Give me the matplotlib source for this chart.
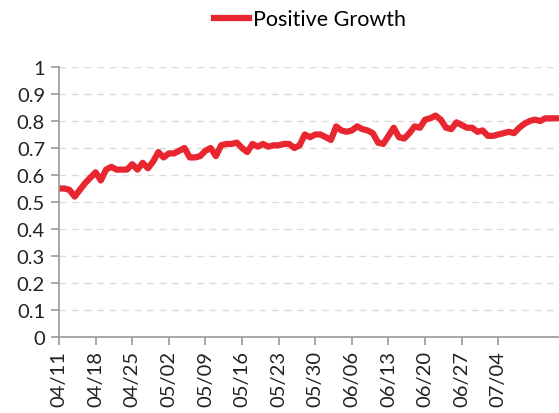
import matplotlib
matplotlib.use("Agg")
import matplotlib.pyplot as plt
import numpy as np
import datetime as dt

# daily share of positive growth, 04/11 -> 07/15
start = dt.date(2020, 4, 11)
values = [
    0.55, 0.55, 0.545, 0.52, 0.545, 0.57, 0.59, 0.61, 0.58, 0.62,
    0.63, 0.62, 0.62, 0.62, 0.64, 0.62, 0.645, 0.625, 0.65, 0.685,
    0.665, 0.68, 0.68, 0.69, 0.70, 0.665, 0.665, 0.67, 0.69, 0.70,
    0.67, 0.71, 0.715, 0.715, 0.72, 0.70, 0.685, 0.715, 0.705, 0.715,
    0.705, 0.71, 0.71, 0.715, 0.715, 0.70, 0.71, 0.75, 0.74, 0.75,
    0.75, 0.74, 0.73, 0.78, 0.765, 0.76, 0.765, 0.78, 0.77, 0.765,
    0.755, 0.72, 0.715, 0.745, 0.775, 0.74, 0.735, 0.755, 0.78, 0.775,
    0.805, 0.81, 0.82, 0.805, 0.775, 0.77, 0.795, 0.785, 0.775, 0.775,
    0.76, 0.765, 0.745, 0.745, 0.75, 0.755, 0.76, 0.755, 0.775, 0.79,
    0.80, 0.805, 0.80, 0.81, 0.81, 0.81,
]
dates = [(start + dt.timedelta(days=i)).strftime("%m/%d") for i in range(len(values))]
series_name = "Positive Growth"

red = "#E8262F"
grey = "#9a9a9a"

fig = plt.figure(figsize=(5.59, 4.14), dpi=100)
ax = fig.add_axes([59/559, 1 - 338/414, 1 - 59/559, 270/414])

x = np.arange(len(values))
ax.plot(x, values, color=red, lw=4.5, solid_joinstyle="round", label=series_name)

ax.set_xlim(0, (559 - 59) / 5.23)
ax.set_ylim(0, 1)
yt = np.round(np.arange(0, 1.01, 0.1), 1)
ax.set_yticks(yt)
ax.set_yticklabels(["0" if v == 0 else ("1" if v == 1 else f"{v:g}") for v in yt])
for v in yt[1:]:
    ax.axhline(v, color="#dcdcdc", lw=1, ls=(0, (5, 4)), zorder=0)

ax.set_xticks(x[:85:7])
ax.set_xticklabels(dates[:85:7], rotation=90)

for s in ["top", "right"]:
    ax.spines[s].set_visible(False)
for s in ["left", "bottom"]:
    ax.spines[s].set_color(grey)
    ax.spines[s].set_linewidth(1.2)
ax.tick_params(colors=grey, width=1.2, length=6, labelcolor="#222222", labelsize=14.5)
ax.tick_params(axis="y", pad=4)
for lab in ax.get_xticklabels() + ax.get_yticklabels():
    lab.set_fontfamily("Lato")

leg = fig.legend(loc="upper center", bbox_to_anchor=(0.555, 1.022), frameon=False,
                 handlelength=1.6, handletextpad=0.2,
                 prop={"family": "Lato", "size": 15.5})

fig.savefig("out.png", dpi=100)
